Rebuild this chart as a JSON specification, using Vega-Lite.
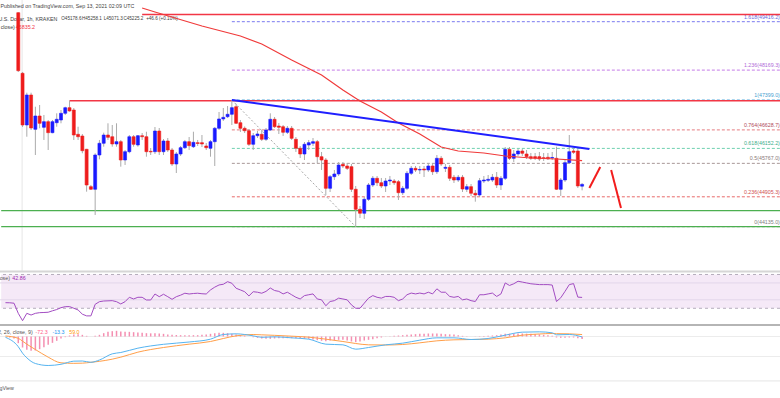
{
"$schema":"https://vega.github.io/schema/vega-lite/v6.json",
"width":780,"height":368,
"autosize":{"type":"none"},
"padding":{"left":0,"top":0,"right":0,"bottom":30},
"background":"#ffffff",
"config":{"view":{"stroke":null},"font":"Liberation Sans","text":{"font":"Liberation Sans"}},
"datasets":{
"candles":[
{"t":"2021-09-07T14:00Z","o":49648,"h":49660,"l":48120,"c":48154},
{"t":"2021-09-07T15:00Z","o":48087,"h":48120,"l":46703,"c":46755},
{"t":"2021-09-07T16:00Z","o":46755,"h":47587,"l":46453,"c":47528},
{"t":"2021-09-07T17:00Z","o":47528,"h":47587,"l":46626,"c":46678},
{"t":"2021-09-07T18:00Z","o":46644,"h":47226,"l":45982,"c":46987},
{"t":"2021-09-07T19:00Z","o":46987,"h":47270,"l":46670,"c":46799},
{"t":"2021-09-07T20:00Z","o":46696,"h":47013,"l":46369,"c":46840},
{"t":"2021-09-07T21:00Z","o":46840,"h":46884,"l":46111,"c":46557},
{"t":"2021-09-07T22:00Z","o":46557,"h":46884,"l":46541,"c":46840},
{"t":"2021-09-07T23:00Z","o":46814,"h":47056,"l":46711,"c":46902},
{"t":"2021-09-08T00:00Z","o":46884,"h":47141,"l":46799,"c":47056},
{"t":"2021-09-08T01:00Z","o":47056,"h":47226,"l":47013,"c":47201},
{"t":"2021-09-08T02:00Z","o":47201,"h":47380,"l":47098,"c":47116},
{"t":"2021-09-08T03:00Z","o":47141,"h":47193,"l":46369,"c":46497},
{"t":"2021-09-08T04:00Z","o":46515,"h":46711,"l":46369,"c":46453},
{"t":"2021-09-08T05:00Z","o":46471,"h":46523,"l":46026,"c":46093},
{"t":"2021-09-08T06:00Z","o":46129,"h":46140,"l":45037,"c":45209},
{"t":"2021-09-08T07:00Z","o":45166,"h":45209,"l":45081,"c":45099},
{"t":"2021-09-08T08:00Z","o":45099,"h":46026,"l":44437,"c":45982},
{"t":"2021-09-08T09:00Z","o":45982,"h":46369,"l":45871,"c":46284},
{"t":"2021-09-08T10:00Z","o":46284,"h":46557,"l":46196,"c":46497},
{"t":"2021-09-08T11:00Z","o":46497,"h":46799,"l":46369,"c":46438},
{"t":"2021-09-08T12:00Z","o":46453,"h":46755,"l":46196,"c":46266},
{"t":"2021-09-08T13:00Z","o":46266,"h":46799,"l":46196,"c":46325},
{"t":"2021-09-08T14:00Z","o":46325,"h":46369,"l":45681,"c":45853},
{"t":"2021-09-08T15:00Z","o":45853,"h":46111,"l":45725,"c":46067},
{"t":"2021-09-08T16:00Z","o":46067,"h":46497,"l":46026,"c":46453},
{"t":"2021-09-08T17:00Z","o":46453,"h":46497,"l":46196,"c":46258},
{"t":"2021-09-08T18:00Z","o":46240,"h":46497,"l":46196,"c":46479},
{"t":"2021-09-08T19:00Z","o":46479,"h":46549,"l":46369,"c":46453},
{"t":"2021-09-08T20:00Z","o":46453,"h":46582,"l":45938,"c":46067},
{"t":"2021-09-08T21:00Z","o":46077,"h":46162,"l":45982,"c":46062},
{"t":"2021-09-08T22:00Z","o":46067,"h":46703,"l":46008,"c":46600},
{"t":"2021-09-08T23:00Z","o":46600,"h":46678,"l":45982,"c":46067},
{"t":"2021-09-09T00:00Z","o":46067,"h":46394,"l":45982,"c":46343},
{"t":"2021-09-09T01:00Z","o":46343,"h":46420,"l":46060,"c":46111},
{"t":"2021-09-09T02:00Z","o":46111,"h":46163,"l":45699,"c":45750},
{"t":"2021-09-09T03:00Z","o":45750,"h":46060,"l":45518,"c":46008},
{"t":"2021-09-09T04:00Z","o":46008,"h":46214,"l":45957,"c":46170},
{"t":"2021-09-09T05:00Z","o":46170,"h":46369,"l":46137,"c":46325},
{"t":"2021-09-09T06:00Z","o":46325,"h":46446,"l":46111,"c":46222},
{"t":"2021-09-09T07:00Z","o":46196,"h":46582,"l":46163,"c":46309},
{"t":"2021-09-09T08:00Z","o":46299,"h":46369,"l":46214,"c":46278},
{"t":"2021-09-09T09:00Z","o":46299,"h":46497,"l":46188,"c":46266},
{"t":"2021-09-09T10:00Z","o":46214,"h":46291,"l":46111,"c":46170},
{"t":"2021-09-09T11:00Z","o":46155,"h":46369,"l":45938,"c":46325},
{"t":"2021-09-09T12:00Z","o":46325,"h":46703,"l":45699,"c":46670},
{"t":"2021-09-09T13:00Z","o":46670,"h":47090,"l":46626,"c":46910},
{"t":"2021-09-09T14:00Z","o":46910,"h":47193,"l":46858,"c":46953},
{"t":"2021-09-09T15:00Z","o":46969,"h":47244,"l":46935,"c":47031},
{"t":"2021-09-09T16:00Z","o":47031,"h":47399,"l":46755,"c":47201},
{"t":"2021-09-09T17:00Z","o":47226,"h":47300,"l":46781,"c":46799},
{"t":"2021-09-09T18:00Z","o":46814,"h":46884,"l":46575,"c":46670},
{"t":"2021-09-09T19:00Z","o":46670,"h":46717,"l":46549,"c":46608},
{"t":"2021-09-09T20:00Z","o":46608,"h":46652,"l":46214,"c":46258},
{"t":"2021-09-09T21:00Z","o":46258,"h":46549,"l":46111,"c":46479},
{"t":"2021-09-09T22:00Z","o":46479,"h":46600,"l":46420,"c":46523},
{"t":"2021-09-09T23:00Z","o":46515,"h":46626,"l":46343,"c":46387},
{"t":"2021-09-10T00:00Z","o":46387,"h":46678,"l":46343,"c":46626},
{"t":"2021-09-10T01:00Z","o":46626,"h":47056,"l":46600,"c":46902},
{"t":"2021-09-10T02:00Z","o":46902,"h":46961,"l":46678,"c":46711},
{"t":"2021-09-10T03:00Z","o":46729,"h":46807,"l":46523,"c":46696},
{"t":"2021-09-10T04:00Z","o":46711,"h":46755,"l":46472,"c":46567},
{"t":"2021-09-10T05:00Z","o":46567,"h":46729,"l":46523,"c":46670},
{"t":"2021-09-10T06:00Z","o":46670,"h":46729,"l":46369,"c":46412},
{"t":"2021-09-10T07:00Z","o":46387,"h":46446,"l":46060,"c":46155},
{"t":"2021-09-10T08:00Z","o":46155,"h":46214,"l":45905,"c":46008},
{"t":"2021-09-10T09:00Z","o":46008,"h":46317,"l":45853,"c":46258},
{"t":"2021-09-10T10:00Z","o":46240,"h":46369,"l":46111,"c":46299},
{"t":"2021-09-10T11:00Z","o":46284,"h":46420,"l":46214,"c":46325},
{"t":"2021-09-10T12:00Z","o":46325,"h":46369,"l":45776,"c":45938},
{"t":"2021-09-10T13:00Z","o":45938,"h":46060,"l":45596,"c":45853},
{"t":"2021-09-10T14:00Z","o":45853,"h":45905,"l":44952,"c":45124},
{"t":"2021-09-10T15:00Z","o":45124,"h":45467,"l":45029,"c":45423},
{"t":"2021-09-10T16:00Z","o":45423,"h":45596,"l":45338,"c":45493},
{"t":"2021-09-10T17:00Z","o":45493,"h":45802,"l":45441,"c":45725},
{"t":"2021-09-10T18:00Z","o":45743,"h":45802,"l":45647,"c":45699},
{"t":"2021-09-10T19:00Z","o":45699,"h":45776,"l":45596,"c":45639},
{"t":"2021-09-10T20:00Z","o":45681,"h":45750,"l":45029,"c":45099},
{"t":"2021-09-10T21:00Z","o":45099,"h":45184,"l":44135,"c":44583},
{"t":"2021-09-10T22:00Z","o":44583,"h":44668,"l":44359,"c":44481},
{"t":"2021-09-10T23:00Z","o":44481,"h":44900,"l":44334,"c":44841},
{"t":"2021-09-11T00:00Z","o":44841,"h":45261,"l":44797,"c":45209},
{"t":"2021-09-11T01:00Z","o":45209,"h":45441,"l":45158,"c":45382},
{"t":"2021-09-11T02:00Z","o":45382,"h":45441,"l":45184,"c":45268},
{"t":"2021-09-11T03:00Z","o":45268,"h":45390,"l":45132,"c":45184},
{"t":"2021-09-11T04:00Z","o":45184,"h":45390,"l":45029,"c":45312},
{"t":"2021-09-11T05:00Z","o":45312,"h":45441,"l":45209,"c":45338},
{"t":"2021-09-11T06:00Z","o":45312,"h":45364,"l":45209,"c":45268},
{"t":"2021-09-11T07:00Z","o":45294,"h":45338,"l":44823,"c":45011},
{"t":"2021-09-11T08:00Z","o":45011,"h":45184,"l":44952,"c":45124},
{"t":"2021-09-11T09:00Z","o":45124,"h":45570,"l":45081,"c":45511},
{"t":"2021-09-11T10:00Z","o":45511,"h":45699,"l":45467,"c":45639},
{"t":"2021-09-11T11:00Z","o":45639,"h":45699,"l":45544,"c":45596},
{"t":"2021-09-11T12:00Z","o":45596,"h":45699,"l":45493,"c":45609},
{"t":"2021-09-11T13:00Z","o":45622,"h":45699,"l":45415,"c":45596},
{"t":"2021-09-11T14:00Z","o":45596,"h":45776,"l":45544,"c":45699},
{"t":"2021-09-11T15:00Z","o":45699,"h":45776,"l":45467,"c":45552},
{"t":"2021-09-11T16:00Z","o":45552,"h":45982,"l":45493,"c":45897},
{"t":"2021-09-11T17:00Z","o":45897,"h":45957,"l":45699,"c":45750},
{"t":"2021-09-11T18:00Z","o":45639,"h":45750,"l":45544,"c":45665},
{"t":"2021-09-11T19:00Z","o":45665,"h":45725,"l":45312,"c":45382},
{"t":"2021-09-11T20:00Z","o":45408,"h":45467,"l":45261,"c":45338},
{"t":"2021-09-11T21:00Z","o":45338,"h":45467,"l":45287,"c":45408},
{"t":"2021-09-11T22:00Z","o":45408,"h":45467,"l":45029,"c":45106},
{"t":"2021-09-11T23:00Z","o":45099,"h":45235,"l":45029,"c":45166},
{"t":"2021-09-12T00:00Z","o":45166,"h":45235,"l":44926,"c":44996},
{"t":"2021-09-12T01:00Z","o":44996,"h":45081,"l":44779,"c":44952},
{"t":"2021-09-12T02:00Z","o":44952,"h":45390,"l":44900,"c":45320},
{"t":"2021-09-12T03:00Z","o":45312,"h":45441,"l":45261,"c":45338},
{"t":"2021-09-12T04:00Z","o":45330,"h":45467,"l":45287,"c":45356},
{"t":"2021-09-12T05:00Z","o":45338,"h":45493,"l":45287,"c":45408},
{"t":"2021-09-12T06:00Z","o":45408,"h":45544,"l":45132,"c":45209},
{"t":"2021-09-12T07:00Z","o":45209,"h":45441,"l":45081,"c":45382},
{"t":"2021-09-12T08:00Z","o":45382,"h":46188,"l":45338,"c":46129},
{"t":"2021-09-12T09:00Z","o":46129,"h":46188,"l":45853,"c":45897},
{"t":"2021-09-12T10:00Z","o":45897,"h":46111,"l":45802,"c":46008},
{"t":"2021-09-12T11:00Z","o":46008,"h":46137,"l":45957,"c":46085},
{"t":"2021-09-12T12:00Z","o":46085,"h":46137,"l":45957,"c":46026},
{"t":"2021-09-12T13:00Z","o":46008,"h":46111,"l":45879,"c":45939},
{"t":"2021-09-12T14:00Z","o":45939,"h":46034,"l":45853,"c":45897},
{"t":"2021-09-12T15:00Z","o":45939,"h":46034,"l":45853,"c":45897},
{"t":"2021-09-12T16:00Z","o":45939,"h":46060,"l":45828,"c":45879},
{"t":"2021-09-12T17:00Z","o":45913,"h":46034,"l":45828,"c":45897},
{"t":"2021-09-12T18:00Z","o":45923,"h":46034,"l":45853,"c":45887},
{"t":"2021-09-12T19:00Z","o":45905,"h":46060,"l":45853,"c":45918},
{"t":"2021-09-12T20:00Z","o":45897,"h":46196,"l":45081,"c":45099},
{"t":"2021-09-12T21:00Z","o":45099,"h":45390,"l":44926,"c":45338},
{"t":"2021-09-12T22:00Z","o":45338,"h":45853,"l":45287,"c":45784},
{"t":"2021-09-12T23:00Z","o":45784,"h":46497,"l":45750,"c":46067},
{"t":"2021-09-13T00:00Z","o":46085,"h":46162,"l":46008,"c":46052},
{"t":"2021-09-13T01:00Z","o":46085,"h":46137,"l":45132,"c":45184},
{"t":"2021-09-13T02:00Z","o":45178.6,"h":45258.1,"l":45071.3,"c":45225.2}
],
"ma":[
{"t":"2021-09-08T19:00Z","p":49769},{"t":"2021-09-08T22:00Z","p":49666},{"t":"2021-09-09T09:00Z","p":49305},{"t":"2021-09-09T18:00Z","p":49048},{"t":"2021-09-09T23:00Z","p":48842},{"t":"2021-09-10T06:00Z","p":48429},{"t":"2021-09-10T13:00Z","p":48043},{"t":"2021-09-10T18:00Z","p":47657},{"t":"2021-09-10T22:00Z","p":47373},{"t":"2021-09-11T03:00Z","p":47090},{"t":"2021-09-11T07:00Z","p":46806},{"t":"2021-09-11T12:00Z","p":46523},{"t":"2021-09-11T17:00Z","p":46188},{"t":"2021-09-11T21:00Z","p":46085},{"t":"2021-09-12T03:00Z","p":46034},{"t":"2021-09-12T08:00Z","p":45956},{"t":"2021-09-12T14:00Z","p":45905},{"t":"2021-09-12T20:00Z","p":45879},{"t":"2021-09-13T02:00Z","p":45835.2}
],
"rsi":[
{"t":"2021-09-07T11:00Z","v":36.6},{"t":"2021-09-07T12:00Z","v":36.5},{"t":"2021-09-07T13:00Z","v":36},{"t":"2021-09-07T14:00Z","v":24},{"t":"2021-09-07T15:00Z","v":15.3},{"t":"2021-09-07T16:00Z","v":24},{"t":"2021-09-07T17:00Z","v":22},{"t":"2021-09-07T18:00Z","v":24},{"t":"2021-09-07T19:00Z","v":24.8},{"t":"2021-09-07T20:00Z","v":25},{"t":"2021-09-07T21:00Z","v":25.3},{"t":"2021-09-07T22:00Z","v":27},{"t":"2021-09-07T23:00Z","v":28.5},
{"t":"2021-09-08T00:00Z","v":30.7},{"t":"2021-09-08T01:00Z","v":31.9},{"t":"2021-09-08T02:00Z","v":32},{"t":"2021-09-08T03:00Z","v":30},{"t":"2021-09-08T04:00Z","v":28},{"t":"2021-09-08T05:00Z","v":23},{"t":"2021-09-08T06:00Z","v":21},{"t":"2021-09-08T07:00Z","v":21},{"t":"2021-09-08T08:00Z","v":34.7},{"t":"2021-09-08T09:00Z","v":37.8},{"t":"2021-09-08T10:00Z","v":38.6},{"t":"2021-09-08T11:00Z","v":38.8},{"t":"2021-09-08T12:00Z","v":39},{"t":"2021-09-08T13:00Z","v":37.8},{"t":"2021-09-08T14:00Z","v":35.1},{"t":"2021-09-08T15:00Z","v":37.8},{"t":"2021-09-08T16:00Z","v":43},{"t":"2021-09-08T17:00Z","v":41},{"t":"2021-09-08T18:00Z","v":43},{"t":"2021-09-08T19:00Z","v":43},{"t":"2021-09-08T20:00Z","v":39.8},{"t":"2021-09-08T21:00Z","v":39.8},{"t":"2021-09-08T22:00Z","v":46.9},{"t":"2021-09-08T23:00Z","v":43.7},
{"t":"2021-09-09T00:00Z","v":46.6},{"t":"2021-09-09T01:00Z","v":43.7},{"t":"2021-09-09T02:00Z","v":40.6},{"t":"2021-09-09T03:00Z","v":43.7},{"t":"2021-09-09T04:00Z","v":45.5},{"t":"2021-09-09T05:00Z","v":47.8},{"t":"2021-09-09T06:00Z","v":46.9},{"t":"2021-09-09T07:00Z","v":47.5},{"t":"2021-09-09T08:00Z","v":47.8},{"t":"2021-09-09T09:00Z","v":47.2},{"t":"2021-09-09T10:00Z","v":46.9},{"t":"2021-09-09T11:00Z","v":51.7},{"t":"2021-09-09T12:00Z","v":55},{"t":"2021-09-09T13:00Z","v":57.6},{"t":"2021-09-09T14:00Z","v":58.4},{"t":"2021-09-09T15:00Z","v":61.5},{"t":"2021-09-09T16:00Z","v":59.6},{"t":"2021-09-09T17:00Z","v":53.7},{"t":"2021-09-09T18:00Z","v":51.7},{"t":"2021-09-09T19:00Z","v":49.6},{"t":"2021-09-09T20:00Z","v":44.6},{"t":"2021-09-09T21:00Z","v":49.6},{"t":"2021-09-09T22:00Z","v":49},{"t":"2021-09-09T23:00Z","v":47.8},
{"t":"2021-09-10T00:00Z","v":50},{"t":"2021-09-10T01:00Z","v":54},{"t":"2021-09-10T02:00Z","v":51},{"t":"2021-09-10T03:00Z","v":50},{"t":"2021-09-10T04:00Z","v":47},{"t":"2021-09-10T05:00Z","v":49},{"t":"2021-09-10T06:00Z","v":46},{"t":"2021-09-10T07:00Z","v":43},{"t":"2021-09-10T08:00Z","v":41},{"t":"2021-09-10T09:00Z","v":45},{"t":"2021-09-10T10:00Z","v":46},{"t":"2021-09-10T11:00Z","v":47},{"t":"2021-09-10T12:00Z","v":41},{"t":"2021-09-10T13:00Z","v":40},{"t":"2021-09-10T14:00Z","v":33},{"t":"2021-09-10T15:00Z","v":38},{"t":"2021-09-10T16:00Z","v":39},{"t":"2021-09-10T17:00Z","v":42},{"t":"2021-09-10T18:00Z","v":41},{"t":"2021-09-10T19:00Z","v":40},{"t":"2021-09-10T20:00Z","v":34},{"t":"2021-09-10T21:00Z","v":30},{"t":"2021-09-10T22:00Z","v":30},{"t":"2021-09-10T23:00Z","v":36},
{"t":"2021-09-11T00:00Z","v":42},{"t":"2021-09-11T01:00Z","v":45},{"t":"2021-09-11T02:00Z","v":43},{"t":"2021-09-11T03:00Z","v":42},{"t":"2021-09-11T04:00Z","v":44},{"t":"2021-09-11T05:00Z","v":44},{"t":"2021-09-11T06:00Z","v":43},{"t":"2021-09-11T07:00Z","v":39},{"t":"2021-09-11T08:00Z","v":41},{"t":"2021-09-11T09:00Z","v":46},{"t":"2021-09-11T10:00Z","v":48},{"t":"2021-09-11T11:00Z","v":47},{"t":"2021-09-11T12:00Z","v":48},{"t":"2021-09-11T13:00Z","v":47},{"t":"2021-09-11T14:00Z","v":49},{"t":"2021-09-11T15:00Z","v":47},{"t":"2021-09-11T16:00Z","v":53},{"t":"2021-09-11T17:00Z","v":49},{"t":"2021-09-11T18:00Z","v":49},{"t":"2021-09-11T19:00Z","v":44},{"t":"2021-09-11T20:00Z","v":43},{"t":"2021-09-11T21:00Z","v":44},{"t":"2021-09-11T22:00Z","v":40},{"t":"2021-09-11T23:00Z","v":41},
{"t":"2021-09-12T00:00Z","v":39},{"t":"2021-09-12T01:00Z","v":38},{"t":"2021-09-12T02:00Z","v":46},{"t":"2021-09-12T03:00Z","v":46},{"t":"2021-09-12T04:00Z","v":47},{"t":"2021-09-12T05:00Z","v":48},{"t":"2021-09-12T06:00Z","v":44},{"t":"2021-09-12T07:00Z","v":47},{"t":"2021-09-12T08:00Z","v":60},{"t":"2021-09-12T09:00Z","v":57},{"t":"2021-09-12T10:00Z","v":59},{"t":"2021-09-12T11:00Z","v":62},{"t":"2021-09-12T12:00Z","v":61},{"t":"2021-09-12T13:00Z","v":60},{"t":"2021-09-12T14:00Z","v":59},{"t":"2021-09-12T15:00Z","v":58.5},{"t":"2021-09-12T16:00Z","v":58},{"t":"2021-09-12T17:00Z","v":58},{"t":"2021-09-12T18:00Z","v":58},{"t":"2021-09-12T19:00Z","v":57.5},{"t":"2021-09-12T20:00Z","v":38},{"t":"2021-09-12T21:00Z","v":42.4},{"t":"2021-09-12T22:00Z","v":50},{"t":"2021-09-12T23:00Z","v":58},
{"t":"2021-09-13T00:00Z","v":59.2},{"t":"2021-09-13T01:00Z","v":43.2},{"t":"2021-09-13T02:00Z","v":42.86}
],
"macd":[
{"t":"2021-09-07T11:00Z","m":-24,"s":15},{"t":"2021-09-07T14:00Z","m":-306,"s":-54},{"t":"2021-09-07T15:00Z","m":-500,"s":-140},{"t":"2021-09-07T16:00Z","m":-640,"s":-230},{"t":"2021-09-07T18:00Z","m":-810,"s":-390},{"t":"2021-09-07T21:00Z","m":-870,"s":-620},{"t":"2021-09-08T00:00Z","m":-834,"s":-790},{"t":"2021-09-08T03:00Z","m":-740,"s":-805},{"t":"2021-09-08T05:00Z","m":-735,"s":-800},{"t":"2021-09-08T07:00Z","m":-774,"s":-774},{"t":"2021-09-08T09:00Z","m":-705,"s":-745},{"t":"2021-09-08T12:00Z","m":-520,"s":-680},{"t":"2021-09-08T14:00Z","m":-480,"s":-620},{"t":"2021-09-08T18:00Z","m":-350,"s":-470},{"t":"2021-09-09T00:00Z","m":-234,"s":-330},{"t":"2021-09-09T06:00Z","m":-165,"s":-230},{"t":"2021-09-09T11:00Z","m":-80,"s":-150},{"t":"2021-09-09T14:00Z","m":60,"s":-60},{"t":"2021-09-09T17:00Z","m":80,"s":20},{"t":"2021-09-09T21:00Z","m":20,"s":60},{"t":"2021-09-09T23:00Z","m":-24,"s":50},{"t":"2021-09-10T02:00Z","m":-10,"s":35},{"t":"2021-09-10T06:00Z","m":-40,"s":10},{"t":"2021-09-10T10:00Z","m":-80,"s":-20},{"t":"2021-09-10T14:00Z","m":-230,"s":-80},{"t":"2021-09-10T18:00Z","m":-250,"s":-150},{"t":"2021-09-10T21:00Z","m":-380,"s":-210},{"t":"2021-09-11T00:00Z","m":-330,"s":-250},{"t":"2021-09-11T04:00Z","m":-250,"s":-255},{"t":"2021-09-11T08:00Z","m":-200,"s":-240},{"t":"2021-09-11T12:00Z","m":-110,"s":-190},{"t":"2021-09-11T16:00Z","m":-40,"s":-130},{"t":"2021-09-11T20:00Z","m":-40,"s":-100},{"t":"2021-09-12T00:00Z","m":-90,"s":-90},{"t":"2021-09-12T04:00Z","m":-60,"s":-80},{"t":"2021-09-12T08:00Z","m":40,"s":-40},{"t":"2021-09-12T12:00Z","m":130,"s":40},{"t":"2021-09-12T16:00Z","m":140,"s":75},{"t":"2021-09-12T19:00Z","m":110,"s":90},{"t":"2021-09-12T20:00Z","m":50,"s":85},{"t":"2021-09-12T23:00Z","m":60,"s":80},{"t":"2021-09-13T02:00Z","m":-13.3,"s":59}
],
"hist":[
{"t":"2021-09-07T12:00Z","h":-30},{"t":"2021-09-07T13:00Z","h":-60},{"t":"2021-09-07T14:00Z","h":-200},{"t":"2021-09-07T15:00Z","h":-330},{"t":"2021-09-07T16:00Z","h":-400},{"t":"2021-09-07T17:00Z","h":-430},{"t":"2021-09-07T18:00Z","h":-420},{"t":"2021-09-07T19:00Z","h":-380},{"t":"2021-09-07T20:00Z","h":-320},{"t":"2021-09-07T21:00Z","h":-250},{"t":"2021-09-07T22:00Z","h":-190},{"t":"2021-09-07T23:00Z","h":-130},
{"t":"2021-09-08T00:00Z","h":-60},{"t":"2021-09-08T01:00Z","h":-20},{"t":"2021-09-08T02:00Z","h":30},{"t":"2021-09-08T03:00Z","h":60},{"t":"2021-09-08T04:00Z","h":70},{"t":"2021-09-08T05:00Z","h":50},{"t":"2021-09-08T06:00Z","h":20},{"t":"2021-09-08T07:00Z","h":0},{"t":"2021-09-08T08:00Z","h":20},{"t":"2021-09-08T09:00Z","h":50},{"t":"2021-09-08T10:00Z","h":100},{"t":"2021-09-08T11:00Z","h":140},{"t":"2021-09-08T12:00Z","h":160},{"t":"2021-09-08T13:00Z","h":170},{"t":"2021-09-08T14:00Z","h":150},{"t":"2021-09-08T15:00Z","h":140},{"t":"2021-09-08T16:00Z","h":140},{"t":"2021-09-08T17:00Z","h":130},{"t":"2021-09-08T18:00Z","h":120},{"t":"2021-09-08T19:00Z","h":110},{"t":"2021-09-08T20:00Z","h":100},{"t":"2021-09-08T21:00Z","h":95},{"t":"2021-09-08T22:00Z","h":100},{"t":"2021-09-08T23:00Z","h":90},
{"t":"2021-09-09T00:00Z","h":80},{"t":"2021-09-09T01:00Z","h":60},{"t":"2021-09-09T02:00Z","h":50},{"t":"2021-09-09T03:00Z","h":45},{"t":"2021-09-09T04:00Z","h":40},{"t":"2021-09-09T05:00Z","h":40},{"t":"2021-09-09T06:00Z","h":40},{"t":"2021-09-09T07:00Z","h":40},{"t":"2021-09-09T08:00Z","h":40},{"t":"2021-09-09T09:00Z","h":50},{"t":"2021-09-09T10:00Z","h":60},{"t":"2021-09-09T11:00Z","h":80},{"t":"2021-09-09T12:00Z","h":100},{"t":"2021-09-09T13:00Z","h":110},{"t":"2021-09-09T14:00Z","h":110},{"t":"2021-09-09T15:00Z","h":100},{"t":"2021-09-09T16:00Z","h":80},{"t":"2021-09-09T17:00Z","h":60},{"t":"2021-09-09T18:00Z","h":40},{"t":"2021-09-09T19:00Z","h":30},{"t":"2021-09-09T20:00Z","h":0},{"t":"2021-09-09T21:00Z","h":-20},{"t":"2021-09-09T22:00Z","h":-40},{"t":"2021-09-09T23:00Z","h":-60},
{"t":"2021-09-10T00:00Z","h":-70},{"t":"2021-09-10T01:00Z","h":-70},{"t":"2021-09-10T02:00Z","h":-60},{"t":"2021-09-10T03:00Z","h":-55},{"t":"2021-09-10T04:00Z","h":-50},{"t":"2021-09-10T05:00Z","h":-50},{"t":"2021-09-10T06:00Z","h":-50},{"t":"2021-09-10T07:00Z","h":-55},{"t":"2021-09-10T08:00Z","h":-60},{"t":"2021-09-10T09:00Z","h":-65},{"t":"2021-09-10T10:00Z","h":-70},{"t":"2021-09-10T11:00Z","h":-90},{"t":"2021-09-10T12:00Z","h":-110},{"t":"2021-09-10T13:00Z","h":-130},{"t":"2021-09-10T14:00Z","h":-140},{"t":"2021-09-10T15:00Z","h":-120},{"t":"2021-09-10T16:00Z","h":-110},{"t":"2021-09-10T17:00Z","h":-100},{"t":"2021-09-10T18:00Z","h":-100},{"t":"2021-09-10T19:00Z","h":-120},{"t":"2021-09-10T20:00Z","h":-150},{"t":"2021-09-10T21:00Z","h":-170},{"t":"2021-09-10T22:00Z","h":-150},{"t":"2021-09-10T23:00Z","h":-120},
{"t":"2021-09-11T00:00Z","h":-100},{"t":"2021-09-11T01:00Z","h":-80},{"t":"2021-09-11T02:00Z","h":-50},{"t":"2021-09-11T03:00Z","h":-30},{"t":"2021-09-11T04:00Z","h":5},{"t":"2021-09-11T05:00Z","h":10},{"t":"2021-09-11T06:00Z","h":20},{"t":"2021-09-11T07:00Z","h":30},{"t":"2021-09-11T08:00Z","h":40},{"t":"2021-09-11T09:00Z","h":50},{"t":"2021-09-11T10:00Z","h":60},{"t":"2021-09-11T11:00Z","h":70},{"t":"2021-09-11T12:00Z","h":80},{"t":"2021-09-11T13:00Z","h":85},{"t":"2021-09-11T14:00Z","h":90},{"t":"2021-09-11T15:00Z","h":90},{"t":"2021-09-11T16:00Z","h":90},{"t":"2021-09-11T17:00Z","h":80},{"t":"2021-09-11T18:00Z","h":70},{"t":"2021-09-11T19:00Z","h":65},{"t":"2021-09-11T20:00Z","h":60},{"t":"2021-09-11T21:00Z","h":40},{"t":"2021-09-11T22:00Z","h":20},{"t":"2021-09-11T23:00Z","h":10},
{"t":"2021-09-12T00:00Z","h":0},{"t":"2021-09-12T01:00Z","h":5},{"t":"2021-09-12T02:00Z","h":10},{"t":"2021-09-12T03:00Z","h":15},{"t":"2021-09-12T04:00Z","h":20},{"t":"2021-09-12T05:00Z","h":30},{"t":"2021-09-12T06:00Z","h":40},{"t":"2021-09-12T07:00Z","h":60},{"t":"2021-09-12T08:00Z","h":80},{"t":"2021-09-12T09:00Z","h":85},{"t":"2021-09-12T10:00Z","h":90},{"t":"2021-09-12T11:00Z","h":90},{"t":"2021-09-12T12:00Z","h":90},{"t":"2021-09-12T13:00Z","h":85},{"t":"2021-09-12T14:00Z","h":80},{"t":"2021-09-12T15:00Z","h":75},{"t":"2021-09-12T16:00Z","h":65},{"t":"2021-09-12T17:00Z","h":50},{"t":"2021-09-12T18:00Z","h":35},{"t":"2021-09-12T19:00Z","h":20},{"t":"2021-09-12T20:00Z","h":-30},{"t":"2021-09-12T21:00Z","h":-40},{"t":"2021-09-12T22:00Z","h":-35},{"t":"2021-09-12T23:00Z","h":-30},
{"t":"2021-09-13T00:00Z","h":-30},{"t":"2021-09-13T01:00Z","h":-55},{"t":"2021-09-13T02:00Z","h":-72.3}
]
},
"resolve":{"scale":{"y":"independent"}},
"layer":[
{"layer":[
 {"data":{"values":[{"t":"2021-09-07T14:54Z","p1":42976,"p2":49975}]},
  "mark":{"type":"rule","color":"#e6e6e6","strokeWidth":1},
  "encoding":{"x":{"field":"t","type":"temporal","scale":{"type":"utc","domain":[1631012008000,1631660976000]},"axis":null},
   "y":{"field":"p1","type":"quantitative","scale":{"domain":[40495,49975],"zero":false,"nice":false},"axis":null},"y2":{"field":"p2"}}},
 {"data":{"values":[
   {"t":"2021-09-07T09:50Z","p":49820,"txt":"Published on TradingView.com, Sep 13, 2021 02:09 UTC","col":"#444444","fs":5.3},
   {"t":"2021-09-08T00:04Z","p":49486,"txt":"O45178.6","col":"#3c3c3c","fs":4.6},
   {"t":"2021-09-08T04:55Z","p":49486,"txt":"H45258.1","col":"#3c3c3c","fs":4.6},
   {"t":"2021-09-08T10:00Z","p":49486,"txt":"L45071.3","col":"#3c3c3c","fs":4.6},
   {"t":"2021-09-08T14:37Z","p":49486,"txt":"C45225.2","col":"#3c3c3c","fs":4.6},
   {"t":"2021-09-08T19:56Z","p":49486,"txt":"+46.6 (+0.10%)","col":"#3c3c3c","fs":4.6},
   {"t":"2021-09-07T13:26Z","p":49280,"txt":"45835.2","col":"#f23645","fs":5.3}]},
  "mark":{"type":"text","align":"left","baseline":"middle"},
  "encoding":{"x":{"field":"t","type":"temporal","scale":{"type":"utc","domain":[1631012008000,1631660976000]},"axis":null},
   "y":{"field":"p","type":"quantitative","scale":{"domain":[40495,49975],"zero":false,"nice":false},"axis":null},
   "text":{"field":"txt"},"color":{"field":"col","type":"nominal","scale":null},"size":{"field":"fs","type":"quantitative","scale":null}}},
 {"data":{"values":[
   {"t":"2021-09-07T23:08Z","p":49486,"txt":"Bitcoin / U.S. Dollar, 1h, KRAKEN","col":"#3c3c3c"},
   {"t":"2021-09-07T13:12Z","p":49280,"txt":"MA (100, close)","col":"#3c3c3c"}]},
  "mark":{"type":"text","align":"right","baseline":"middle","fontSize":5.3},
  "encoding":{"x":{"field":"t","type":"temporal","scale":{"type":"utc","domain":[1631012008000,1631660976000]},"axis":null},
   "y":{"field":"p","type":"quantitative","scale":{"domain":[40495,49975],"zero":false,"nice":false},"axis":null},
   "text":{"field":"txt"},"color":{"field":"col","type":"nominal","scale":null}}},
 {"data":{"values":[
   {"t":"2021-09-09T16:00Z","t2":"2021-09-15T02:00Z","p":49416.2,"col":"#7b7bef"},
   {"t":"2021-09-09T16:00Z","t2":"2021-09-15T02:00Z","p":48169.3,"col":"#c47be8"},
   {"t":"2021-09-09T16:00Z","t2":"2021-09-15T02:00Z","p":47399,"col":"#5ab0e0"},
   {"t":"2021-09-09T16:00Z","t2":"2021-09-15T02:00Z","p":46628.7,"col":"#e57c80"},
   {"t":"2021-09-09T16:00Z","t2":"2021-09-15T02:00Z","p":46152.2,"col":"#6fd0b0"},
   {"t":"2021-09-09T16:00Z","t2":"2021-09-15T02:00Z","p":45767,"col":"#a89898"},
   {"t":"2021-09-09T16:00Z","t2":"2021-09-15T02:00Z","p":44905.3,"col":"#e86a6a"},
   {"t":"2021-09-09T16:00Z","t2":"2021-09-15T02:00Z","p":44135,"col":"#909090"}]},
  "mark":{"type":"rule","strokeDash":[3,2],"strokeWidth":1},
  "encoding":{"x":{"field":"t","type":"temporal","scale":{"type":"utc","domain":[1631012008000,1631660976000]},"axis":null},"x2":{"field":"t2"},
   "y":{"field":"p","type":"quantitative","scale":{"domain":[40495,49975],"zero":false,"nice":false},"axis":null},
   "color":{"field":"col","type":"nominal","scale":null}}},
 {"data":{"values":[
   {"t":"2021-09-15T00:18Z","p":49416.2,"txt":"1.618(49416.2)","col":"#6a6ae0"},
   {"t":"2021-09-15T00:18Z","p":48169.3,"txt":"1.236(48169.3)","col":"#b06ad8"},
   {"t":"2021-09-15T00:18Z","p":47399,"txt":"1(47399.0)","col":"#4aa0d0"},
   {"t":"2021-09-15T00:18Z","p":46628.7,"txt":"0.764(46628.7)","col":"#b04a5a"},
   {"t":"2021-09-15T00:18Z","p":46152.2,"txt":"0.618(46152.2)","col":"#3cae8a"},
   {"t":"2021-09-15T00:18Z","p":45767,"txt":"0.5(45767.0)","col":"#8a7878"},
   {"t":"2021-09-15T00:18Z","p":44905.3,"txt":"0.236(44905.3)","col":"#d05050"},
   {"t":"2021-09-15T00:18Z","p":44135,"txt":"0(44135.0)","col":"#808080"}]},
  "mark":{"type":"text","align":"right","baseline":"bottom","dy":-2,"fontSize":5.3},
  "encoding":{"x":{"field":"t","type":"temporal","scale":{"type":"utc","domain":[1631012008000,1631660976000]},"axis":null},
   "y":{"field":"p","type":"quantitative","scale":{"domain":[40495,49975],"zero":false,"nice":false},"axis":null},
   "text":{"field":"txt"},"color":{"field":"col","type":"nominal","scale":null}}},
 {"data":{"values":[
   {"t":"2021-09-08T19:00Z","t2":"2021-09-15T02:00Z","p":49600,"col":"#f23645","w":1.5},
   {"t":"2021-09-08T02:00Z","t2":"2021-09-15T02:00Z","p":47380,"col":"#f23645","w":1.5},
   {"t":"2021-09-07T10:00Z","t2":"2021-09-15T02:00Z","p":44547,"col":"#4caf50","w":1.3},
   {"t":"2021-09-07T10:00Z","t2":"2021-09-15T02:00Z","p":44135,"col":"#4caf50","w":1.3}]},
  "mark":{"type":"rule"},
  "encoding":{"x":{"field":"t","type":"temporal","scale":{"type":"utc","domain":[1631012008000,1631660976000]},"axis":null},"x2":{"field":"t2"},
   "y":{"field":"p","type":"quantitative","scale":{"domain":[40495,49975],"zero":false,"nice":false},"axis":null},
   "color":{"field":"col","type":"nominal","scale":null},"strokeWidth":{"field":"w","type":"quantitative","scale":null}}},
 {"data":{"values":[{"t":"2021-09-09T16:00Z","p":47399,"t2":"2021-09-10T21:00Z","p2":44135}]},
  "mark":{"type":"rule","color":"#a8a8a8","strokeDash":[2,2],"strokeWidth":1},
  "encoding":{"x":{"field":"t","type":"temporal","scale":{"type":"utc","domain":[1631012008000,1631660976000]},"axis":null},"x2":{"field":"t2"},
   "y":{"field":"p","type":"quantitative","scale":{"domain":[40495,49975],"zero":false,"nice":false},"axis":null},"y2":{"field":"p2"}}},
 {"data":{"name":"candles"},
  "mark":{"type":"rule","color":"#ababab","strokeWidth":1},
  "encoding":{"x":{"field":"t","type":"temporal","scale":{"type":"utc","domain":[1631012008000,1631660976000]},"axis":null},
   "y":{"field":"l","type":"quantitative","scale":{"domain":[40495,49975],"zero":false,"nice":false},"axis":null},"y2":{"field":"h"}}},
 {"data":{"name":"candles"},
  "mark":{"type":"bar","size":3,"strokeWidth":0.6},
  "encoding":{"x":{"field":"t","type":"temporal","scale":{"type":"utc","domain":[1631012008000,1631660976000]},
    "axis":{"tickCount":{"interval":"hour","step":12},"labelExpr":"utchours(datum.value) == 12 ? '12:00' : utcdate(datum.value)","grid":true,"gridColor":"#ececec","gridWidth":1,"domain":true,"domainColor":"#dddddd","ticks":false,"tickSize":0,"labelPadding":4,"labelFontSize":6,"labelColor":"#555555","labelFont":"Liberation Sans","title":null,"labelFlush":false,"labelOverlap":false}},
   "y":{"field":"o","type":"quantitative","scale":{"domain":[40495,49975],"zero":false,"nice":false},
    "axis":{"values":[43200,43600,44000,44400,44800,45200,45600,46000,46400,46800,47200,47600,48000,48400,48800,49200,49600],"grid":true,"gridColor":"#f0f0f0","labels":false,"ticks":false,"domain":false,"title":null}},
   "y2":{"field":"c"},
   "color":{"condition":{"test":"datum.c >= datum.o","value":"#1a1aff"},"value":"#ee1c1c"},
   "stroke":{"condition":{"test":"datum.c >= datum.o","value":"#1a1aff"},"value":"#ee1c1c"}}},
 {"data":{"name":"ma"},
  "mark":{"type":"line","color":"#f03a3a","strokeWidth":1.2},
  "encoding":{"x":{"field":"t","type":"temporal","scale":{"type":"utc","domain":[1631012008000,1631660976000]},"axis":null},
   "y":{"field":"p","type":"quantitative","scale":{"domain":[40495,49975],"zero":false,"nice":false},"axis":null}}},
 {"data":{"values":[
   {"t":"2021-09-09T16:00Z","p":47399,"t2":"2021-09-13T03:42Z","p2":46137,"col":"#1f1fff"},
   {"t":"2021-09-13T03:42Z","p":45132,"t2":"2021-09-13T06:15Z","p2":45673,"col":"#f21d1d"},
   {"t":"2021-09-13T08:48Z","p":45596,"t2":"2021-09-13T11:06Z","p2":44617,"col":"#f21d1d"}]},
  "mark":{"type":"rule","strokeWidth":2},
  "encoding":{"x":{"field":"t","type":"temporal","scale":{"type":"utc","domain":[1631012008000,1631660976000]},"axis":null},"x2":{"field":"t2"},
   "y":{"field":"p","type":"quantitative","scale":{"domain":[40495,49975],"zero":false,"nice":false},"axis":null},"y2":{"field":"p2"},
   "color":{"field":"col","type":"nominal","scale":null}}}
]},
{"layer":[
 {"data":{"values":[{"t":"2021-09-07T10:00Z","t2":"2021-09-15T02:00Z","lo":30,"hi":70}]},
  "mark":{"type":"rect","color":"#9c27b0","opacity":0.1},
  "encoding":{"x":{"field":"t","type":"temporal","scale":{"type":"utc","domain":[1631012008000,1631660976000]},"axis":null},"x2":{"field":"t2"},
   "y":{"field":"lo","type":"quantitative","scale":{"domain":[-40.7,394.9],"zero":false,"nice":false},"axis":null},"y2":{"field":"hi"}}},
 {"data":{"values":[{"r":40},{"r":60}]},
  "mark":{"type":"rule","color":"#e2d6ea","strokeWidth":1},
  "encoding":{"y":{"field":"r","type":"quantitative","scale":{"domain":[-40.7,394.9],"zero":false,"nice":false},"axis":null}}},
 {"data":{"values":[{"r":30},{"r":70}]},
  "mark":{"type":"rule","color":"#b4acbc","strokeWidth":1,"strokeDash":[3,3]},
  "encoding":{"y":{"field":"r","type":"quantitative","scale":{"domain":[-40.7,394.9],"zero":false,"nice":false},"axis":null}}},
 {"data":{"values":[{"r":73.6,"col":"#d6d6d6","w":2},{"r":10.2,"col":"#b5b5b5","w":2},{"r":-56,"col":"#e6e6e6","w":1}]},
  "mark":{"type":"rule"},
  "encoding":{"y":{"field":"r","type":"quantitative","scale":{"domain":[-40.7,394.9],"zero":false,"nice":false},"axis":null},
   "color":{"field":"col","type":"nominal","scale":null},"strokeWidth":{"field":"w","type":"quantitative","scale":null}}},
 {"data":{"name":"rsi"},
  "mark":{"type":"line","color":"#a24cc2","strokeWidth":1},
  "encoding":{"x":{"field":"t","type":"temporal","scale":{"type":"utc","domain":[1631012008000,1631660976000]},"axis":null},
   "y":{"field":"v","type":"quantitative","scale":{"domain":[-40.7,394.9],"zero":false,"nice":false},"axis":null}}},
 {"data":{"values":[
   {"t":"2021-09-07T12:03Z","r":65.5,"txt":"RSI (14, close)","col":"#555555"},
   {"t":"2021-09-07T12:58Z","r":-64.3,"txt":"TradingView","col":"#555555"}]},
  "mark":{"type":"text","align":"right","baseline":"middle","fontSize":5.3},
  "encoding":{"x":{"field":"t","type":"temporal","scale":{"type":"utc","domain":[1631012008000,1631660976000]},"axis":null},
   "y":{"field":"r","type":"quantitative","scale":{"domain":[-40.7,394.9],"zero":false,"nice":false},"axis":null},
   "text":{"field":"txt"},"color":{"field":"col","type":"nominal","scale":null}}},
 {"data":{"values":[{"t":"2021-09-07T12:37Z","r":65.5,"txt":"42.86","col":"#9c27b0"}]},
  "mark":{"type":"text","align":"left","baseline":"middle","fontSize":5.3},
  "encoding":{"x":{"field":"t","type":"temporal","scale":{"type":"utc","domain":[1631012008000,1631660976000]},"axis":null},
   "y":{"field":"r","type":"quantitative","scale":{"domain":[-40.7,394.9],"zero":false,"nice":false},"axis":null},
   "text":{"field":"txt"},"color":{"field":"col","type":"nominal","scale":null}}}
]},
{"layer":[
 {"data":{"values":[{"v":0},{"v":-600}]},
  "mark":{"type":"rule","color":"#ececec","strokeWidth":1},
  "encoding":{"y":{"field":"v","type":"quantitative","scale":{"domain":[-945,10095],"zero":false,"nice":false},"axis":null}}},
 {"data":{"name":"hist"},
  "mark":{"type":"bar","size":1.5,"color":"#f48fb1"},
  "encoding":{"x":{"field":"t","type":"temporal","scale":{"type":"utc","domain":[1631012008000,1631660976000]},"axis":null},
   "y":{"field":"h","type":"quantitative","scale":{"domain":[-945,10095],"zero":false,"nice":false},"axis":null},"y2":{"datum":0}}},
 {"data":{"name":"macd"},
  "mark":{"type":"line","color":"#ff9f4a","strokeWidth":1,"interpolate":"monotone"},
  "encoding":{"x":{"field":"t","type":"temporal","scale":{"type":"utc","domain":[1631012008000,1631660976000]},"axis":null},
   "y":{"field":"s","type":"quantitative","scale":{"domain":[-945,10095],"zero":false,"nice":false},"axis":null}}},
 {"data":{"name":"macd"},
  "mark":{"type":"line","color":"#56b4f0","strokeWidth":1,"interpolate":"monotone"},
  "encoding":{"x":{"field":"t","type":"temporal","scale":{"type":"utc","domain":[1631012008000,1631660976000]},"axis":null},
   "y":{"field":"m","type":"quantitative","scale":{"domain":[-945,10095],"zero":false,"nice":false},"axis":null}}},
 {"data":{"values":[{"t":"2021-09-07T17:22Z","v":144,"txt":"MACD (12, 26, close, 9)","col":"#555555"}]},
  "mark":{"type":"text","align":"right","baseline":"middle","fontSize":5.3},
  "encoding":{"x":{"field":"t","type":"temporal","scale":{"type":"utc","domain":[1631012008000,1631660976000]},"axis":null},
   "y":{"field":"v","type":"quantitative","scale":{"domain":[-945,10095],"zero":false,"nice":false},"axis":null},
   "text":{"field":"txt"},"color":{"field":"col","type":"nominal","scale":null}}},
 {"data":{"values":[
   {"t":"2021-09-07T18:03Z","v":144,"txt":"-72.3","col":"#ff5c8a"},
   {"t":"2021-09-07T21:59Z","v":144,"txt":"-13.3","col":"#2196f3"},
   {"t":"2021-09-08T01:55Z","v":144,"txt":"59.0","col":"#ff9800"}]},
  "mark":{"type":"text","align":"left","baseline":"middle","fontSize":5.3},
  "encoding":{"x":{"field":"t","type":"temporal","scale":{"type":"utc","domain":[1631012008000,1631660976000]},"axis":null},
   "y":{"field":"v","type":"quantitative","scale":{"domain":[-945,10095],"zero":false,"nice":false},"axis":null},
   "text":{"field":"txt"},"color":{"field":"col","type":"nominal","scale":null}}}
]}
]
}
